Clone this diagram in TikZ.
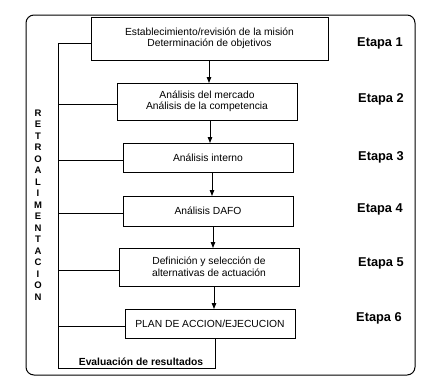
\documentclass[tikz,border=0pt]{standalone}
\usepackage{fontspec}
\setmainfont{Liberation Sans}
\usetikzlibrary{arrows.meta,calc}
\begin{document}
\begin{tikzpicture}[x=1pt,y=-1pt,
  stepbox/.style={draw,line width=0.9pt,inner sep=0pt,font=\fontsize{10.3}{11.5}\selectfont,align=center},
  etapa/.style={font=\fontsize{12.8}{14}\selectfont\bfseries},
  flow/.style={line width=0.9pt,-{Triangle[length=6pt,width=4.5pt]}},
  fb/.style={line width=0.9pt}]
\useasboundingbox (0,0) rectangle (438,386);
\draw[line width=1pt,rounded corners=8pt] (26,15) rectangle (415,375);
\node[stepbox,minimum width=237pt,minimum height=43pt] (b1) at (209.5,38.5) {Establecimiento/revisión de la misión\\Determinación de objetivos};
\node[stepbox,minimum width=180pt,minimum height=37pt] (b2) at (207,101.5) {Análisis del mercado\\Análisis de la competencia};
\node[stepbox,minimum width=170pt,minimum height=29pt] (b3) at (208,157.5) {Análisis interno};
\node[stepbox,minimum width=170pt,minimum height=30pt] (b4) at (208,211) {Análisis DAFO};
\node[stepbox,minimum width=180pt,minimum height=38pt] (b5) at (209,267) {Definición y selección de\\alternativas de actuación};
\node[stepbox,minimum width=170pt,minimum height=29pt] (b6) at (210,323.5) {PLAN DE ACCION/EJECUCION};
\node[etapa] (e1) at (380,43) {Etapa 1};
\node[etapa] (e2) at (381,99) {Etapa 2};
\node[etapa] (e3) at (381,157) {Etapa 3};
\node[etapa] (e4) at (380,209) {Etapa 4};
\node[etapa] (e5) at (381,263) {Etapa 5};
\node[etapa] (e6) at (379,318) {Etapa 6};
\draw[flow] (209,60) -- (209,83);
\draw[flow] (210,120) -- (210,143);
\draw[flow] (212,172) -- (212,196);
\draw[flow] (213,226) -- (213,248);
\draw[flow] (214,286) -- (214,309);
\coordinate (c1) at (215,368);
\coordinate (c2) at (58,368);
\coordinate (c3) at (58,43);
\draw[fb] (215,338) -- (c1) -- (c2) -- (c3) -- (b1.west |- c3);
\draw[fb] (58,104) -- (b2.west |- 0,104);
\draw[fb] (58,160) -- (b3.west |- 0,160);
\draw[fb] (58,213) -- (b4.west |- 0,213);
\draw[fb] (58,270) -- (b5.west |- 0,270);
\draw[fb] (58,326) -- (b6.west |- 0,326);
\node[font=\fontsize{10.3}{11}\selectfont\bfseries] (ev) at (141,361.5) {Evaluación de resultados};
\node[font=\fontsize{9.5}{11.5}\selectfont\bfseries,align=center,inner sep=0pt] (retro) at (38,205) {R\\E\\T\\R\\O\\A\\L\\I\\M\\E\\N\\T\\A\\C\\I\\O\\N};
\end{tikzpicture}
\end{document}
